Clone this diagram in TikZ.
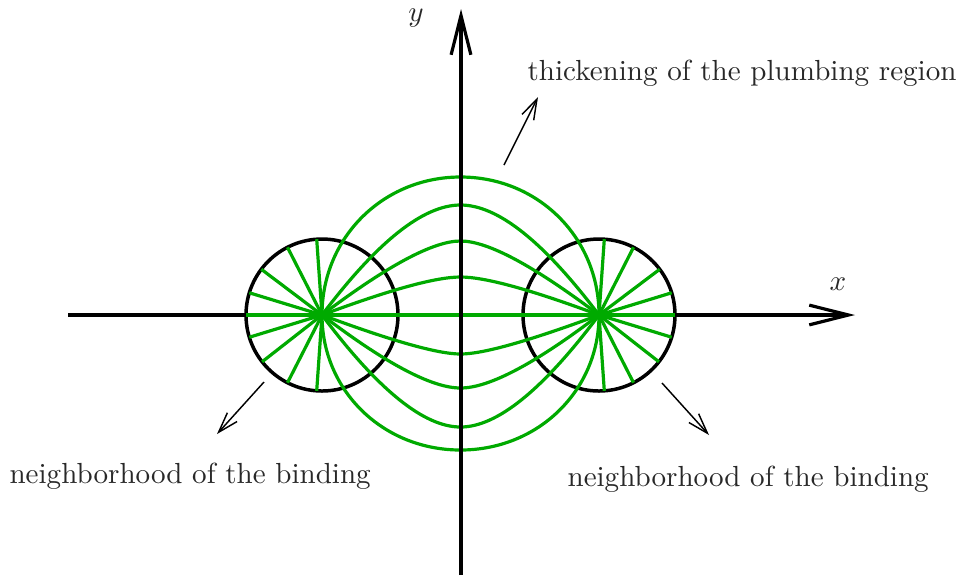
\documentclass[tikz,border=0pt]{standalone}
\usetikzlibrary{arrows.meta,calc}
\definecolor{fieldgreen}{RGB}{0,170,0}
\definecolor{labelgray}{RGB}{40,40,40}
\begin{document}
\begin{tikzpicture}[x=0.344pt,y=-0.344pt,
  axis/.style={line width=1.1pt,-{Straight Barb[length=13.5pt,width=6.8pt]}},
  fieldline/.style={draw=fieldgreen,line width=1.1pt},
  rim/.style={draw=black,line width=1.2pt},
  pointer/.style={line width=0.5pt,-{Straight Barb[length=7pt,width=4.5pt]}},
  lbl/.style={inner sep=0pt,text=labelgray}]
\useasboundingbox (0,0) rectangle (961,575);
% key points
\coordinate (FL) at (322,315);
\coordinate (FR) at (599,315);
\coordinate (xs) at (68,315);
\coordinate (xe) at (855,315);
\coordinate (ys) at (461,575);
\coordinate (ye) at (461,9);
% x axis
\draw[axis] (xs) -- (xe);
% neighbourhoods of the binding
\draw[rim] (FL) circle[radius=76];
\draw[rim] (FR) circle[radius=76];
% spokes
\foreach \a in {94,117,143,163,197,218,243,266}
  \draw[fieldline] (FL) -- ++(-\a:76);
\foreach \a in {86,63,37,17,-17,-38,-63,-86}
  \draw[fieldline] (FR) -- ++(-\a:76);
\path (FL) ++(180:76) coordinate (Lw);
\path (FR) ++(0:76) coordinate (Re);
\draw[fieldline] (Lw) -- (Re);
% field lines
\foreach \ay/\cx/\k in {177/322/0.56, 205/405/0.67, 241/420/0.67, 277/424/0.67,
                        354/427/0.67, 388/418/0.67, 427/406/0.67, 450/322/0.56} {
  \draw[fieldline] (FL)
    .. controls ($(FL)!\k!(\cx,\ay)$) and ($(460.5,\ay)!\k!(\cx,\ay)$) .. (460.5,\ay)
    .. controls ($(460.5,\ay)!\k!(921-\cx,\ay)$) and ($(FR)!\k!(921-\cx,\ay)$) .. (FR);
}
% y axis
\draw[axis] (ys) -- (ye);
% labels
\node[lbl] (xl) at (838,284) {$x$};
\node[lbl] (yl) at (416,18) {$y$};
\node[lbl,anchor=base west] (tl) at (527,80) {thickening of the plumbing region};
\node[lbl,anchor=base west] (nl) at (9,483) {neighborhood of the binding};
\node[lbl,anchor=base west] (nr) at (567,486) {neighborhood of the binding};
% pointers
\coordinate (p1s) at (504,165); \coordinate (p1e) at (538,97);
\coordinate (p2s) at (264,382); \coordinate (p2e) at (217,434);
\coordinate (p3s) at (662,383); \coordinate (p3e) at (709,435);
\draw[pointer] (p1s) -- (p1e);
\draw[pointer] (p2s) -- (p2e);
\draw[pointer] (p3s) -- (p3e);
\end{tikzpicture}
\end{document}
